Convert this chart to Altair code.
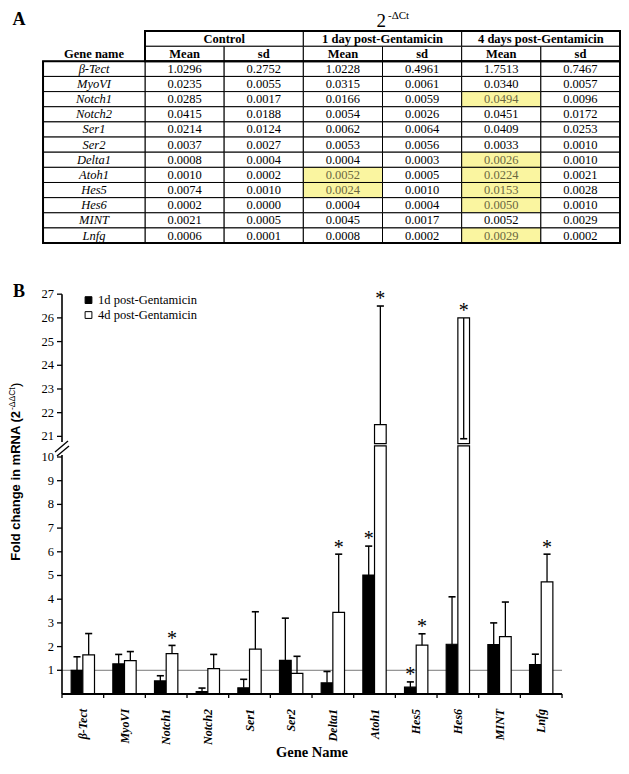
import altair as alt
import pandas as pd

# ---------------- data ----------------
genes = ["β-Tect", "MyoVI", "Notch1", "Notch2", "Ser1", "Ser2",
         "Delta1", "Atoh1", "Hes5", "Hes6", "MINT", "Lnfg"]

groups = ["Control", "1 day post-Gentamicin", "4 days post-Gentamicin"]
stats = ["Mean", "sd"]

ctrl_mean = [1.0296, 0.0235, 0.0285, 0.0415, 0.0214, 0.0037, 0.0008, 0.0010, 0.0074, 0.0002, 0.0021, 0.0006]
ctrl_sd   = [0.2752, 0.0055, 0.0017, 0.0188, 0.0124, 0.0027, 0.0004, 0.0002, 0.0010, 0.0000, 0.0005, 0.0001]
d1_mean   = [1.0228, 0.0315, 0.0166, 0.0054, 0.0062, 0.0053, 0.0004, 0.0052, 0.0024, 0.0004, 0.0045, 0.0008]
d1_sd     = [0.4961, 0.0061, 0.0059, 0.0026, 0.0064, 0.0056, 0.0003, 0.0005, 0.0010, 0.0004, 0.0017, 0.0002]
d4_mean   = [1.7513, 0.0340, 0.0494, 0.0451, 0.0409, 0.0033, 0.0026, 0.0224, 0.0153, 0.0050, 0.0052, 0.0029]
d4_sd     = [0.7467, 0.0057, 0.0096, 0.0172, 0.0253, 0.0010, 0.0010, 0.0021, 0.0028, 0.0010, 0.0029, 0.0002]

# significant (highlighted in table, asterisk in chart)
sig_1d = [0, 0, 0, 0, 0, 0, 0, 1, 1, 0, 0, 0]
sig_4d = [0, 0, 1, 0, 0, 0, 1, 1, 1, 1, 0, 1]

series = ["1d post-Gentamicin", "4d post-Gentamicin"]
fc_1d = [1.00, 1.27, 0.55, 0.10, 0.26, 1.42, 0.47, 5.02, 0.29, 2.10, 2.08, 1.24]
sd_1d = [0.57, 0.40, 0.22, 0.15, 0.36, 1.78, 0.48, 1.22, 0.22, 2.00, 0.92, 0.44]
fc_4d = [1.65, 1.41, 1.70, 1.07, 1.89, 0.87, 3.44, 21.5, 2.06, 26.0, 2.42, 4.73]
sd_4d = [0.90, 0.38, 0.35, 0.60, 1.58, 0.72, 2.46, 5.00, 0.48, 5.10, 1.46, 1.17]

yticks_low = list(range(1, 11))
yticks_high = list(range(21, 28))
axis_seg_lo = [0, 20.76]
axis_seg_hi = [10.08, 27]

# ---------------- styling / layout ----------------
SERIF = "Liberation Serif"
SANS = "Liberation Sans"
YEL = "#FAF5A0"
W, H = 613, 752

# table scales (column units / row units)
TX = alt.Scale(domain=[-1.7305, 6.0124], nice=False, zero=False)
TY = alt.Scale(domain=[-3.518, 46.119], reverse=True, nice=False, zero=False)
GW = 1.288

# chart scales (gene index / broken display units)
BX = alt.Scale(domain=[-1.7959, 12.915], nice=False, zero=False)
BY = alt.Scale(domain=[-2.785, 28.945], nice=False, zero=False)
GAP = 10.87  # display position of value 21
DISP = "({v} <= 15 ? {v} : {v} - 21 + %s)" % GAP


def disp(v):
    return DISP.format(v=v)


# ---------------- panel A: table ----------------
table_cols = [ctrl_mean, ctrl_sd, d1_mean, d1_sd, d4_mean, d4_sd]
hl_cols = [None, None, sig_1d, None, sig_4d, None]
rows = []
for j, col in enumerate(table_cols):
    for r, v in enumerate(col):
        rows.append(dict(r=r, j=j, val=v, hl=(hl_cols[j][r] if hl_cols[j] else 0)))
cells = pd.DataFrame(rows)

cbase = alt.Chart(cells).transform_calculate(
    x0="datum.j", x1="datum.j + 1", xm="datum.j + 0.5",
    y0="datum.r", y1="datum.r + 1", ym="datum.r + 0.5")
cell_rect = cbase.mark_rect(stroke="black", strokeWidth=1).encode(
    x=alt.X("x0:Q", scale=TX, axis=None), x2="x1:Q",
    y=alt.Y("y0:Q", scale=TY, axis=None), y2="y1:Q",
    fill=alt.condition(alt.datum.hl == 1, alt.value(YEL), alt.value("white")))
cell_text = cbase.mark_text(font=SERIF, fontSize=12.5, baseline="middle").encode(
    x=alt.X("xm:Q", scale=TX, axis=None),
    y=alt.Y("ym:Q", scale=TY, axis=None),
    text=alt.Text("val:Q", format=".4f"),
    color=alt.condition(alt.datum.hl == 1, alt.value("#6a6740"), alt.value("black")))

gdf = pd.DataFrame({"gene": genes, "r": list(range(len(genes)))})
gbase = alt.Chart(gdf).transform_calculate(
    x0=str(-GW), x1="0", xm=str(-GW / 2), y0="datum.r", y1="datum.r + 1", ym="datum.r + 0.5")
gene_rect = gbase.mark_rect(stroke="black", strokeWidth=1, fill="white").encode(
    x=alt.X("x0:Q", scale=TX, axis=None), x2="x1:Q",
    y=alt.Y("y0:Q", scale=TY, axis=None), y2="y1:Q")
gene_text = gbase.mark_text(font=SERIF, fontSize=12.5, fontStyle="italic", baseline="middle").encode(
    x=alt.X("xm:Q", scale=TX, axis=None), y=alt.Y("ym:Q", scale=TY, axis=None), text="gene:N")

h2 = pd.DataFrame({"lab": [stats[j % 2] for j in range(6)], "j": list(range(6))})
h2base = alt.Chart(h2).transform_calculate(
    x0="datum.j", x1="datum.j + 1", xm="datum.j + 0.5", y0="-1", y1="0", ym="-0.5")
h2_rect = h2base.mark_rect(stroke="black", strokeWidth=1, fill="white").encode(
    x=alt.X("x0:Q", scale=TX, axis=None), x2="x1:Q",
    y=alt.Y("y0:Q", scale=TY, axis=None), y2="y1:Q")
h2_text = h2base.mark_text(font=SERIF, fontSize=12.5, fontWeight="bold", baseline="middle").encode(
    x=alt.X("xm:Q", scale=TX, axis=None), y=alt.Y("ym:Q", scale=TY, axis=None), text="lab:N")

h1 = pd.DataFrame({"lab": groups, "g": list(range(3))})
h1base = alt.Chart(h1).transform_calculate(
    x0="datum.g * 2", x1="datum.g * 2 + 2", xm="datum.g * 2 + 1", y0="-2", y1="-1", ym="-1.5")
h1_rect = h1base.mark_rect(stroke="black", strokeWidth=1, fill="white").encode(
    x=alt.X("x0:Q", scale=TX, axis=None), x2="x1:Q",
    y=alt.Y("y0:Q", scale=TY, axis=None), y2="y1:Q")
h1_text = h1base.mark_text(font=SERIF, fontSize=12.5, fontWeight="bold", baseline="middle").encode(
    x=alt.X("xm:Q", scale=TX, axis=None), y=alt.Y("ym:Q", scale=TY, axis=None), text="lab:N")

gn = pd.DataFrame({"lab": ["Gene name"]})
gn_text = alt.Chart(gn).transform_calculate(xm=str(-GW / 2), ym="-0.5").mark_text(
    font=SERIF, fontSize=12.5, fontWeight="bold", baseline="middle").encode(
    x=alt.X("xm:Q", scale=TX, axis=None), y=alt.Y("ym:Q", scale=TY, axis=None), text="lab:N")

borders = pd.DataFrame({"x0": [-GW, 0], "x1": [6, 6], "y0": [0, -2], "y1": [len(genes), 0]})
border_rect = alt.Chart(borders).mark_rect(stroke="black", strokeWidth=2, fillOpacity=0).encode(
    x=alt.X("x0:Q", scale=TX, axis=None), x2="x1:Q",
    y=alt.Y("y0:Q", scale=TY, axis=None), y2="y1:Q")

table_layer = alt.layer(cell_rect, gene_rect, h2_rect, h1_rect, border_rect,
                        cell_text, gene_text, h2_text, h1_text, gn_text)

# ---------------- panel B: bar chart ----------------
n = len(genes)
bdf = pd.DataFrame({
    "gene": genes * 2,
    "idx": list(range(n)) * 2,
    "s": [0] * n + [1] * n,
    "v": fc_1d + fc_4d,
    "sd": sd_1d + sd_4d,
    "sig": sig_1d + sig_4d,
})
BW = 0.28
base = (alt.Chart(bdf)
        .transform_calculate(xl="datum.idx + (datum.s == 0 ? -%s : 0)" % BW)
        .transform_calculate(xr="datum.idx + (datum.s == 0 ? 0 : %s)" % BW)
        .transform_calculate(xc="datum.idx + (datum.s == 0 ? -%s : %s)" % (BW / 2, BW / 2))
        .transform_calculate(e="datum.v + datum.sd > 27 ? datum.v - datum.sd : datum.v + datum.sd")
        .transform_calculate(d=disp("datum.v"))
        .transform_calculate(de=disp("datum.e"))
        .transform_calculate(dlow="min(datum.d, 10.47)", up0="10.56", z0="0")
        .transform_calculate(star="max(datum.d, datum.de) + 0.45")
        .transform_calculate(c0="datum.xc - 0.085", c1="datum.xc + 0.085"))

barfill = alt.condition(alt.datum.s == 0, alt.value("black"), alt.value("white"))
bars_lo = base.mark_rect(stroke="black", strokeWidth=1.2).encode(
    x=alt.X("xl:Q", scale=BX, axis=None), x2="xr:Q",
    y=alt.Y("z0:Q", scale=BY, axis=None), y2="dlow:Q", fill=barfill)
bars_hi = base.transform_filter("datum.v > 20").mark_rect(stroke="black", strokeWidth=1.2).encode(
    x=alt.X("xl:Q", scale=BX, axis=None), x2="xr:Q",
    y=alt.Y("up0:Q", scale=BY, axis=None), y2="d:Q", fill=barfill)
err = base.mark_rule(color="black", strokeWidth=1.3).encode(
    x=alt.X("xc:Q", scale=BX, axis=None), y=alt.Y("d:Q", scale=BY, axis=None), y2="de:Q")
cap = base.mark_rule(color="black", strokeWidth=1.6).encode(
    x=alt.X("c0:Q", scale=BX, axis=None), x2="c1:Q", y=alt.Y("de:Q", scale=BY, axis=None))
stars = base.transform_filter("datum.sig == 1").mark_text(
    text="*", font=SERIF, fontSize=20, baseline="middle", dy=4, color="black").encode(
    x=alt.X("xc:Q", scale=BX, axis=None), y=alt.Y("star:Q", scale=BY, axis=None))

lines = pd.DataFrame({"yv": [1, 0], "k": [0, 1]})
lbase = alt.Chart(lines).transform_calculate(x0="-0.5", x1=str(n - 0.5))
ref_line = lbase.transform_filter("datum.k == 0").mark_rule(color="#7a7a7a", strokeWidth=1).encode(
    x=alt.X("x0:Q", scale=BX, axis=None), x2="x1:Q", y=alt.Y("yv:Q", scale=BY, axis=None))
x_axis = lbase.transform_filter("datum.k == 1").mark_rule(color="black", strokeWidth=1.8).encode(
    x=alt.X("x0:Q", scale=BX, axis=None), x2="x1:Q", y=alt.Y("yv:Q", scale=BY, axis=None))

xt = pd.DataFrame({"b": [i - 0.5 for i in range(n + 1)]})
x_ticks = alt.Chart(xt).transform_calculate(y0="0", y1="-0.17").mark_rule(
    color="black", strokeWidth=1.3).encode(
    x=alt.X("b:Q", scale=BX, axis=None), y=alt.Y("y0:Q", scale=BY, axis=None), y2="y1:Q")

x_labels = alt.Chart(gdf).transform_calculate(yl="-0.63").mark_text(
    angle=270, align="right", baseline="middle", font=SERIF, fontSize=12,
    fontStyle="italic", fontWeight="bold").encode(
    x=alt.X("r:Q", scale=BX, axis=None), y=alt.Y("yl:Q", scale=BY, axis=None), text="gene:N")

yt = pd.DataFrame({"t": yticks_low + yticks_high})
ytbase = alt.Chart(yt).transform_calculate(dt=disp("datum.t"), xa="-0.62", xb="-0.5", xl="-0.692")
y_ticks = ytbase.mark_rule(color="black", strokeWidth=1.3).encode(
    x=alt.X("xa:Q", scale=BX, axis=None), x2="xb:Q", y=alt.Y("dt:Q", scale=BY, axis=None))
y_labels = ytbase.mark_text(font=SERIF, fontSize=12.5, align="right", baseline="middle").encode(
    x=alt.X("xl:Q", scale=BX, axis=None), y=alt.Y("dt:Q", scale=BY, axis=None),
    text=alt.Text("t:Q", format="d"))

ys = pd.DataFrame({"a": axis_seg_lo, "b": axis_seg_hi})
y_axis = alt.Chart(ys).transform_calculate(
    da=disp("datum.a"), db=disp("datum.b"), xa="-0.5").mark_rule(color="black", strokeWidth=1.6).encode(
    x=alt.X("xa:Q", scale=BX, axis=None), y=alt.Y("da:Q", scale=BY, axis=None), y2="db:Q")

legdf = pd.DataFrame({"label": series, "s": [0, 1]})
legbase = alt.Chart(legdf).transform_calculate(ly="16.62 - datum.s * 0.63")
leg_sq = legbase.mark_square(size=46, stroke="black", strokeWidth=1, opacity=1).encode(
    x=alt.value(80.5), y=alt.Y("ly:Q", scale=BY, axis=None), fill=barfill)
leg_txt = legbase.mark_text(font=SERIF, fontSize=12.5, align="left", baseline="middle").encode(
    x=alt.value(90), y=alt.Y("ly:Q", scale=BY, axis=None), text="label:N")

bar_layer = alt.layer(ref_line, bars_lo, bars_hi, err, cap, stars, x_axis, x_ticks, x_labels,
                      y_ticks, y_labels, y_axis, leg_sq, leg_txt)

# ---------------- free texts / decorations (pixel placed) ----------------
one = pd.DataFrame({"k": [0]})


def ptext(txt, x, y, **kw):
    return alt.Chart(one).mark_text(text=txt, **kw).encode(x=alt.value(x), y=alt.value(y))


def pline(x, x2, y, y2):
    return alt.Chart(one).mark_rule(color="black", strokeWidth=1.3).encode(
        x=alt.value(x), x2=alt.value(x2), y=alt.value(y), y2=alt.value(y2))


deco = alt.layer(
    ptext("A", 11, 12, font=SERIF, fontSize=18, fontWeight="bold", baseline="middle"),
    ptext("B", 11, 284, font=SERIF, fontSize=18, fontWeight="bold", baseline="middle"),
    ptext("2", 378, 13, font=SERIF, fontSize=19, align="right", baseline="middle"),
    ptext("-ΔCt", 380, 7.5, font=SERIF, fontSize=11, align="left", baseline="middle"),
    ptext("Gene Name", 304, 745, font=SERIF, fontSize=14.5, fontWeight="bold", baseline="middle"),
    ptext("Fold change in mRNA (2", 8, 403, font=SANS, fontSize=13, fontWeight="bold",
          angle=270, align="right", baseline="middle"),
    ptext("-ΔΔCt", 3.5, 402, font=SANS, fontSize=8.5, angle=270, align="left", baseline="middle"),
    ptext(")", 8, 379, font=SANS, fontSize=13, angle=270, align="left", baseline="middle"),
    pline(47, 60, 444, 433),
    pline(49, 61, 448, 438),
)

chart = (alt.layer(table_layer, bar_layer, deco)
         .resolve_scale(x="independent", y="independent")
         .properties(width=W, height=H, padding=0, autosize="none", background="white")
         .configure_view(stroke=None))

chart.save("out.html", embed_options={"renderer": "svg", "actions": False})
